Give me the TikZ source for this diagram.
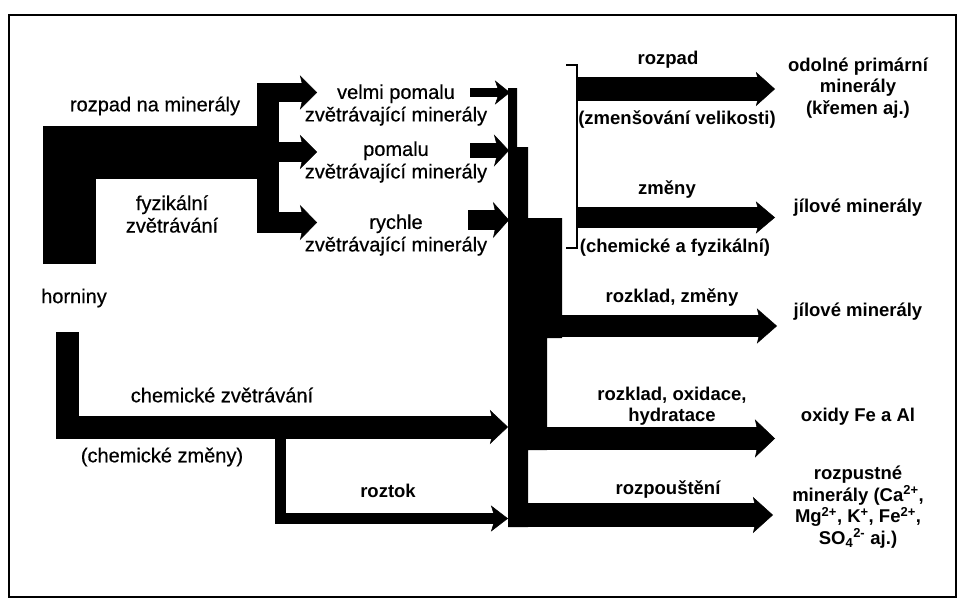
\documentclass[tikz,border=0pt]{standalone}
\usepackage{fontspec}
\setmainfont{Liberation Sans}
\newfontfamily\medfont[FakeBold=0.5]{Liberation Sans}
\usetikzlibrary{arrows.meta}

\begin{document}
\begin{tikzpicture}[x=1pt,y=-1pt,
    lt/.style={font=\fontsize{20}{22.5}\selectfont\medfont, align=center, inner sep=0pt},
    bt/.style={font=\fontsize{18.5}{21.5}\selectfont\bfseries, align=center, inner sep=0pt},
    band/.style={line width=#1, line join=miter},
    head/.style n args={3}{line width=#1, line join=miter,
        -{Stealth[length=#2, width=#3, inset=4pt, line width=0.5pt]}}]
    \useasboundingbox (0,0) rectangle (958,608);
    \draw[line width=2.5pt] (9,15) rectangle (956,597);

    % texts
    \node[lt] (rozpadmin) at (155,106) {rozpad na minerály};
    \node[lt] (fyzikalni) at (172,214) {fyzikální\\zvětrávání};
    \node[lt] (horniny) at (74,298) {horniny};
    \node[lt] (velmipomalu) at (396,105) {velmi pomalu\\zvětrávající minerály};
    \node[lt] (pomalu) at (396,162) {pomalu\\zvětrávající minerály};
    \node[lt] (rychle) at (396,235) {rychle\\zvětrávající minerály};
    \node[lt] (chemzvetr) at (222,395) {chemické zvětrávání};
    \node[lt] (chemzmeny) at (162,457) {(chemické změny)};
    \node[bt] (roztok) at (388,491) {roztok};
    \node[bt] (rozpad) at (668,60) {rozpad};
    \node[bt] (zmensovani) at (677,120) {(zmenšování velikosti)};
    \node[bt] (zmeny) at (667,190) {změny};
    \node[bt] (chemfyz) at (675,248) {(chemické a fyzikální)};
    \node[bt] (rozkladzm) at (672,298) {rozklad, změny};
    \node[bt] (rozkladox) at (672,406) {rozklad, oxidace,\\hydratace};
    \node[bt] (rozpousteni) at (668,490) {rozpouštění};
    \node[bt] (odolne) at (858,88) {odolné primární\\minerály\\(křemen aj.)};
    \node[bt] (jilove1) at (858,208) {jílové minerály};
    \node[bt] (jilove2) at (858,312) {jílové minerály};
    \node[bt] (oxidy) at (858,417) {oxidy Fe a Al};
    \node[bt] (rozpustne) at (858,507) {rozpustné\\minerály (Ca\textsuperscript{2+},\\Mg\textsuperscript{2+}, K\textsuperscript{+}, Fe\textsuperscript{2+},\\SO\textsubscript{4}\textsuperscript{2-} aj.)};

    % flow points
    \coordinate (fyzsrc) at (69.5,264);
    \coordinate (fork) at (268,152.5);
    \coordinate (e1) at (317,92.5);
    \coordinate (e2) at (317,152);
    \coordinate (e3) at (317,222.5);
    \coordinate (chemsrc) at (67.5,332);
    \coordinate (chemtip) at (508,427);
    \coordinate (roztoktip) at (508,518.5);
    \coordinate (t1) at (510,92.5);
    \coordinate (t2) at (509,150.5);
    \coordinate (t3) at (509,220);
    \coordinate (o1) at (775,89);
    \coordinate (o2) at (775,217.5);
    \coordinate (o3) at (777,326);
    \coordinate (o4) at (775,438.5);
    \coordinate (o5) at (773,515);

    % physical weathering
    \draw[band=53pt] (fyzsrc) |- (fork);
    \draw[band=22pt] (268,83) -- (268,233);
    \draw[head={19pt}{17pt}{34pt}] (fork |- e1) -- (e1);
    \draw[head={20pt}{17pt}{34pt}] (fork |- e2) -- (e2);
    \draw[head={21pt}{17pt}{35pt}] (fork |- e3) -- (e3);

    % chemical weathering
    \draw[head={23pt}{18pt}{34pt}] (chemsrc) |- (chemtip);
    \draw[head={11pt}{17pt}{26pt}] (280.5,427) |- (roztoktip);

    % into the trunk
    \draw[head={9pt}{15pt}{24pt}] (470,92.5) -- (t1);
    \draw[head={15pt}{15pt}{32pt}] (470,150.5) -- (t2);
    \draw[head={20pt}{16pt}{36pt}] (468,220) -- (t3);
    \fill (508,88) -- (517,88) -- (517,147) -- (528,147) -- (528,218) -- (562,218)
        -- (562,338) -- (547,338) -- (547,450) -- (528,450) -- (528,527) -- (508,527) -- cycle;

    % out of the trunk
    \draw[line width=2pt] (566,65) -| (577,248) -- (566,248);
    \draw[head={24pt}{19pt}{34pt}] (577,89) -- (o1);
    \draw[head={21pt}{19pt}{32pt}] (577,217.5) -- (o2);
    \draw[head={22pt}{20pt}{35pt}] (555,326) -- (o3);
    \draw[head={23pt}{20pt}{38pt}] (540,438.5) -- (o4);
    \draw[head={24pt}{20pt}{36pt}] (520,515) -- (o5);
\end{tikzpicture}
\end{document}
